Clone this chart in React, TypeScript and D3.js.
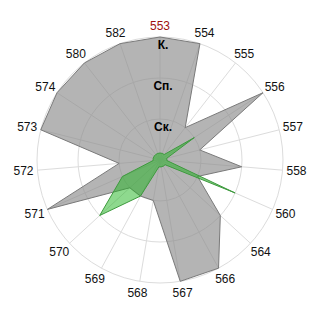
import React from "react";
import * as d3 from "d3";

const categories = ["553", "554", "555", "556", "557", "558", "560", "564", "566", "567", "568", "569", "570", "571", "572", "573", "574", "580", "582"];
const grayValues = [3, 3, 1, 3, 1, 2, 1, 2, 3, 3, 1, 1, 1, 3, 1, 3, 3, 3, 3];
const greenValues = [0.17, 0.17, 0.17, 1, 0.17, 0.17, 2, 0.17, 0.17, 0.17, 0.17, 1, 2, 1, 0.17, 0.17, 0.17, 0.17, 0.17];
const levelTicks = [1, 2, 3];
const levelLabels = ["Ск.", "Сп.", "К."];

const W = 320;
const H = 320;
const cx = 160;
const cy = 160;
const R = 123;

export default function App() {
  const n = categories.length;
  const angle = d3.scaleLinear().domain([0, n]).range([0, 2 * Math.PI]);
  const r = d3.scaleLinear().domain([0, 3]).range([0, R]);

  const radial = d3
    .lineRadial<number>()
    .angle((_, i) => angle(i))
    .radius((v) => r(v))
    .curve(d3.curveLinearClosed);

  const font = "'Liberation Sans', Arial, sans-serif";

  return (
    <svg width={W} height={H} style={{ position: "absolute", left: 0, top: 0, background: "#fff" }}>
      <g transform={`translate(${cx},${cy})`}>
        {levelTicks.map((t) => (
          <circle key={t} r={r(t)} fill="none" stroke="#dcdcdc" strokeWidth={1} />
        ))}
        {categories.map((c, i) => {
          const a = angle(i);
          return (
            <line
              key={c}
              x1={0}
              y1={0}
              x2={R * Math.sin(a)}
              y2={-R * Math.cos(a)}
              stroke="#dcdcdc"
              strokeWidth={1}
            />
          );
        })}
        <path d={radial(grayValues) || ""} fill="rgb(140,140,140)" fillOpacity={0.65} stroke="#7a7a7a" strokeWidth={1} />
        <path d={radial(greenValues) || ""} fill="rgb(30,180,30)" fillOpacity={0.5} stroke="#3d9a3d" strokeWidth={1} />
        {levelTicks.map((t, i) => (
          <text
            key={t}
            x={3}
            y={-r(t) + 12}
            textAnchor="middle"
            fontFamily={font}
            fontSize={12}
            fontWeight="bold"
            fill="#000"
          >
            {levelLabels[i]}
          </text>
        ))}
        {categories.map((c, i) => {
          const a = angle(i);
          const x = 137 * Math.sin(a);
          const y = -134.7 * Math.cos(a) + 4.3;
          return (
            <text
              key={c}
              x={x}
              y={y}
              textAnchor="middle"
              fontFamily={font}
              fontSize={12}
              fill={i === 0 ? "#a01010" : "#111"}
            >
              {c}
            </text>
          );
        })}
      </g>
    </svg>
  );
}
